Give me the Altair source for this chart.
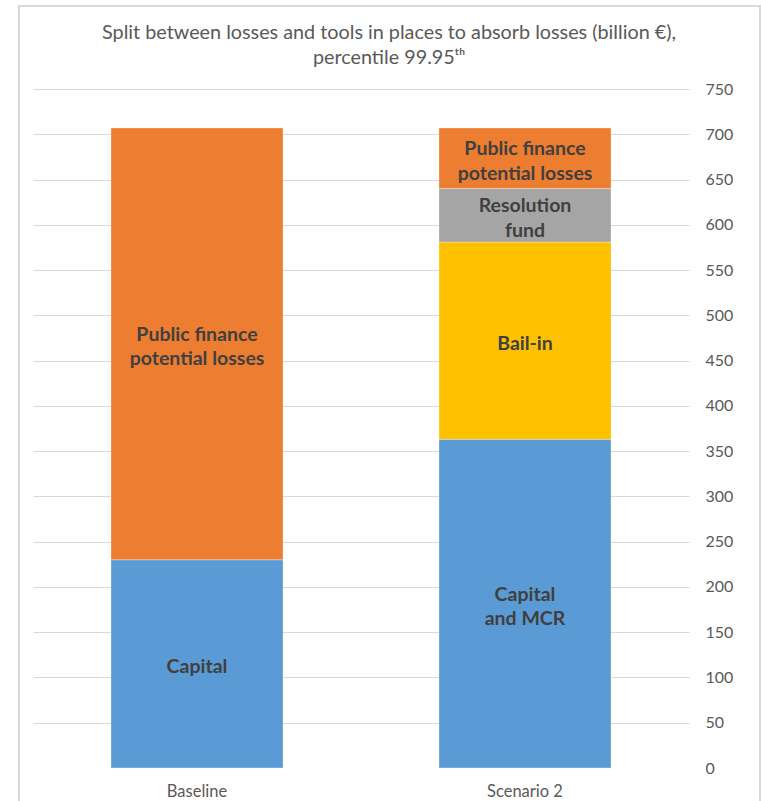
import altair as alt
import pandas as pd

title_lines = ["Split between losses and tools in places to absorb losses (billion €),",
               "percentile 99.95ᵗʰ"]

categories = ["Baseline", "Scenario 2"]

baseline_segments = ["Capital", "Public finance potential losses"]
baseline_labels = ["Capital", "Public finance\npotential losses"]
baseline_values = [230, 477]

scenario_segments = ["Capital and MCR", "Bail-in", "Resolution fund", "Public finance potential losses"]
scenario_labels = ["Capital\nand MCR", "Bail-in", "Resolution\nfund", "Public finance\npotential losses"]
scenario_values = [363, 218, 59, 67]

color_domain = ["Capital", "Capital and MCR", "Bail-in", "Resolution fund", "Public finance potential losses"]
color_range = ["#5B9BD5", "#5B9BD5", "#FFC000", "#A5A5A5", "#ED7D31"]

y_ticks = list(range(0, 751, 50))

rows = []
for i, (s, l, v) in enumerate(zip(baseline_segments, baseline_labels, baseline_values)):
    rows.append({"category": categories[0], "segment": s, "label": l, "value": v, "order": i})
for i, (s, l, v) in enumerate(zip(scenario_segments, scenario_labels, scenario_values)):
    rows.append({"category": categories[1], "segment": s, "label": l, "value": v, "order": i})
df = pd.DataFrame(rows)

FONT = "Lato"

x_enc = alt.X("category:N", sort=categories, title=None,
              scale=alt.Scale(paddingInner=0.4756, paddingOuter=0.2378),
              axis=alt.Axis(labelAngle=0, domain=False, ticks=False, grid=False, labelPadding=15,
                            labelFontSize=16.5, labelColor="#595959", labelFont=FONT))

base = alt.Chart(df).transform_stack(
    stack="value", as_=["y0", "y1"], groupby=["category"],
    sort=[alt.SortField("order", order="ascending")]
).transform_calculate(
    mid="(datum.y0 + datum.y1) / 2",
    nlines="indexof(datum.label, '\\n') >= 0 ? 2 : 1",
)

bars = base.mark_bar(stroke="#ffffff", strokeWidth=0.6, strokeOpacity=0.5).encode(
    x=x_enc,
    y=alt.Y("y0:Q", title=None,
            scale=alt.Scale(domain=[0, 750], nice=False),
            axis=alt.Axis(orient="right", values=y_ticks, domain=False, ticks=False,
                          labelPadding=16, labelFontSize=16, labelColor="#595959",
                          labelFont=FONT, labelAlign="left",
                          gridColor={"condition": {"test": "datum.value === 0", "value": "transparent"},
                                     "value": "#D9D9D9"},
                          gridWidth=1)),
    y2="y1:Q",
    color=alt.Color("segment:N", scale=alt.Scale(domain=color_domain, range=color_range), legend=None),
)

text_style = dict(font=FONT, fontSize=19.5, fontWeight="bold", color="#404040",
                  lineBreak="\n", lineHeight=24.5, baseline="middle")

texts1 = base.transform_filter("datum.nlines == 1").mark_text(dy=3, **text_style).encode(
    x=alt.X("category:N", sort=categories),
    y=alt.Y("mid:Q"),
    text="label:N",
)
texts2 = base.transform_filter("datum.nlines == 2").mark_text(dy=-9, **text_style).encode(
    x=alt.X("category:N", sort=categories),
    y=alt.Y("mid:Q"),
    text="label:N",
)

border = alt.Chart(df).mark_rect(fill=None, stroke="#D9D9D9", strokeWidth=1.5).encode(
    x=alt.value(-14), x2=alt.value(727), y=alt.value(-83), y2=alt.value(730)
)

title_style = dict(font=FONT, fontSize=19.8, fontWeight="normal", color="#595959",
                   align="center", baseline="middle")
title1 = alt.Chart(df).transform_aggregate(n="count()").mark_text(text=title_lines[0], **title_style).encode(
    x=alt.value(356), y=alt.value(-56)
)
title2 = alt.Chart(df).transform_aggregate(n="count()").mark_text(text=title_lines[1], **title_style).encode(
    x=alt.value(356), y=alt.value(-31)
)

chart = alt.layer(border, bars, texts1, texts2, title1, title2).properties(
    width=656, height=679,
    background="#ffffff",
    autosize=alt.AutoSizeParams(type="none"),
    padding={"left": 33, "top": 89, "right": 72, "bottom": 33},
).configure_view(strokeWidth=0, stroke="transparent")

chart.save("out.html", embed_options={"renderer": "svg", "actions": False})
